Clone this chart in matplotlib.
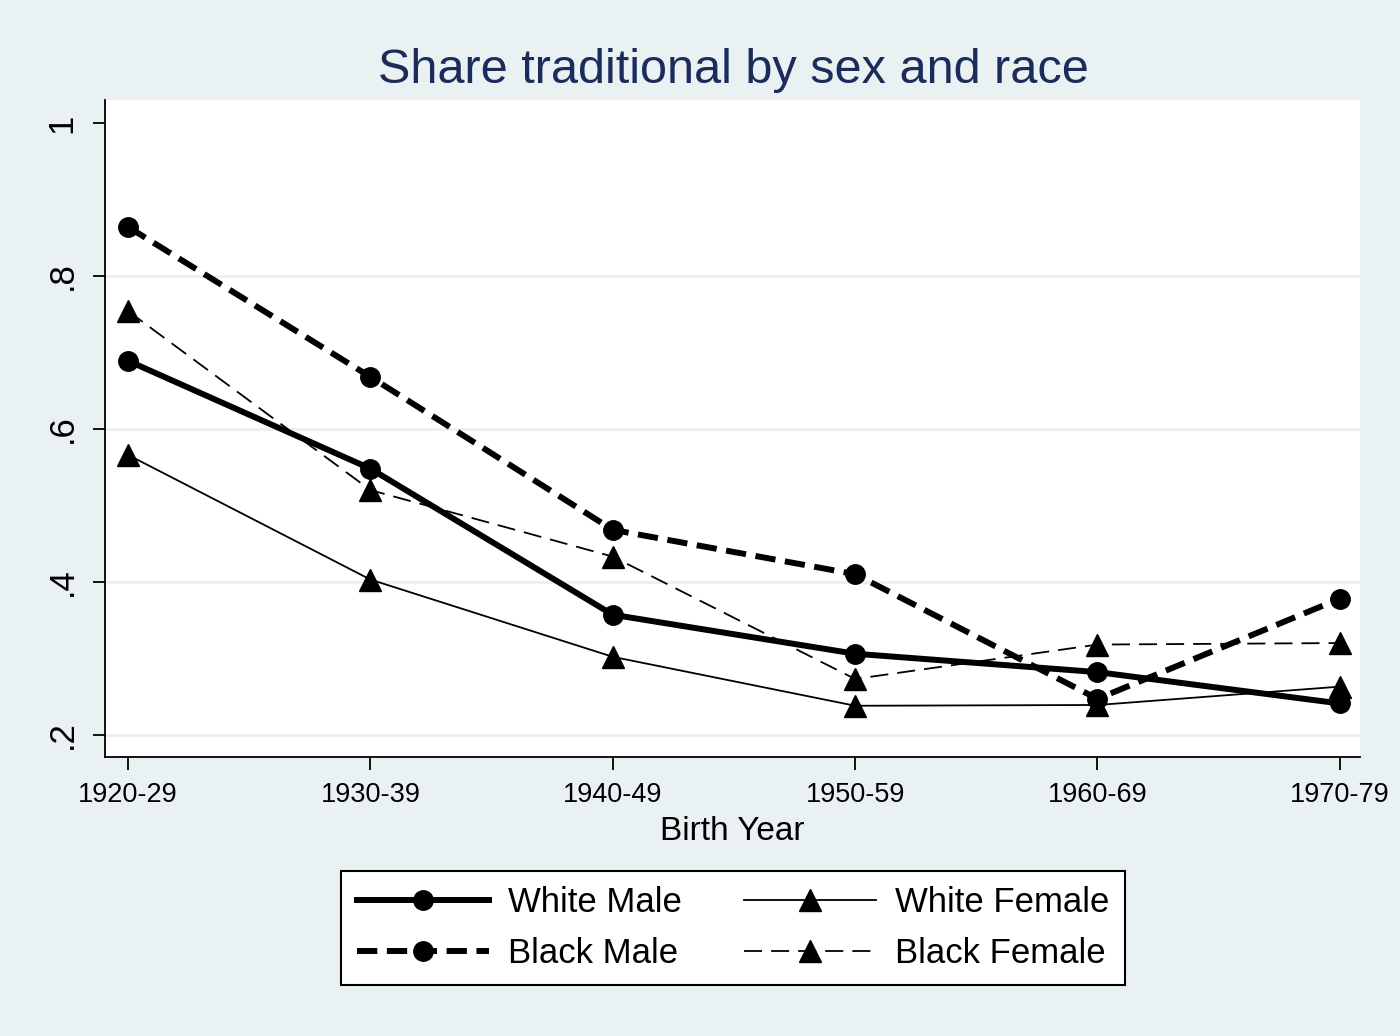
import matplotlib
matplotlib.use("Agg")
import matplotlib.pyplot as plt

plt.rcParams["font.family"] = ["Liberation Sans", "DejaVu Sans"]

# Data
cohorts = ["1920-29", "1930-39", "1940-49", "1950-59", "1960-69", "1970-79"]
white_male = [0.689, 0.548, 0.357, 0.306, 0.282, 0.241]
black_male = [0.864, 0.668, 0.468, 0.410, 0.247, 0.378]
white_female = [0.566, 0.403, 0.302, 0.238, 0.239, 0.263]
black_female = [0.754, 0.520, 0.433, 0.273, 0.318, 0.320]
yticks = [0.2, 0.4, 0.6, 0.8, 1.0]
ytick_labels = [".2", ".4", ".6", ".8", "1"]
grid_vals = [0.2, 0.4, 0.6, 0.8]

bg = "#EAF1F3"
fig = plt.figure(figsize=(14, 10.36), dpi=100, facecolor=bg)
ax = fig.add_axes([0.075, 0.2693, 0.8964, 0.6342])
ax.set_facecolor("white")

x = list(range(len(cohorts)))

for g in grid_vals:
    ax.axhline(g, color=bg, lw=2.2, zorder=0)

ax.plot(x, white_male, color="black", lw=4.3, marker="o", ms=14,
        label="White Male", zorder=4)
ax.plot(x, black_male, color="black", lw=4.3, marker="o", ms=14,
        dashes=(3.4, 1.6), label="Black Male", zorder=4)
ax.plot(x, white_female, color="black", lw=1.3, marker="^", ms=16,
        label="White Female", zorder=3)
ax.plot(x, black_female, color="black", lw=1.3, marker="^", ms=16,
        dashes=(10, 5), label="Black Female", zorder=3)

ax.set_xlim(-0.095, 5.083)
ax.set_ylim(0.171, 1.030)
ax.set_xticks(x)
ax.set_xticklabels(cohorts, fontsize=19.5)
ax.set_yticks(yticks)
ax.set_yticklabels(ytick_labels, fontsize=25, rotation=90, va="center")
ax.tick_params(length=9, width=1.3)
ax.tick_params(axis="x", pad=9)
ax.tick_params(axis="y", pad=10)

for s in ["top", "right"]:
    ax.spines[s].set_visible(False)
for s in ["left", "bottom"]:
    ax.spines[s].set_linewidth(1.3)

ax.set_xlabel("Birth Year", fontsize=24, labelpad=6)
fig.text(0.5236, 0.932, "Share traditional by sex and race", fontsize=35,
         color="#1B2B5A", ha="center", va="center")

leg = fig.legend(ncol=2, loc="center", bbox_to_anchor=(0.5236, 1 - 928 / 1036),
                 fontsize=25, numpoints=1, handlelength=3.8, handletextpad=0.55,
                 columnspacing=1.8, labelspacing=0.5, borderpad=0.45,
                 borderaxespad=0, fancybox=False, framealpha=1, edgecolor="black")
leg.get_frame().set_linewidth(1.5)
leg._legend_box.sep = 0

fig.savefig("out.png", dpi=100, facecolor=bg)
